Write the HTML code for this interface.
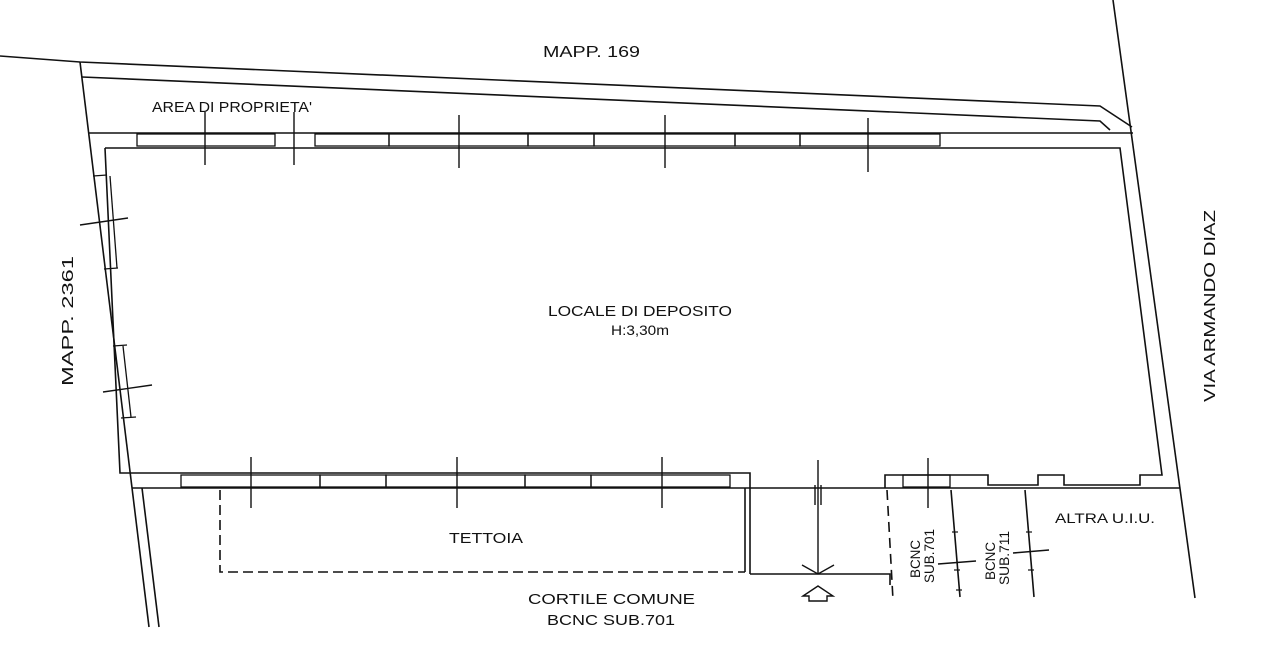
<!DOCTYPE html>
<html><head><meta charset="utf-8"><style>
html,body{margin:0;padding:0;background:#fff;}
svg{display:block;}
text{font-family:"Liberation Sans",sans-serif;fill:#111;}
</style></head><body>
<svg width="1280" height="653" viewBox="0 0 1280 653" xmlns="http://www.w3.org/2000/svg">
<g fill="none" stroke="#111" stroke-width="1.6">
<polyline points="0,56 80,62 1100,106 1132,127"/>
<polyline points="82,77 1100,121 1110,130"/>
<line x1="80" y1="62" x2="149" y2="627"/>
<line x1="1113" y1="0" x2="1195" y2="598"/>
<polyline points="89,133 1133,133"/>
<line x1="142" y1="488" x2="159" y2="627"/>
<line x1="132" y1="488" x2="1180" y2="488"/>
<polyline points="105,148 1120,148 1162,475 1140,475 1140,485 1064,485 1064,475 1038,475 1038,485 988,485 988,475 885,475 885,488"/>
<polyline points="105,148 120,473 750,473 750,488"/>
<g stroke-width="1.3">
<rect x="137" y="134" width="138" height="12"/>
<rect x="315" y="134" width="74" height="12"/>
<rect x="389" y="134" width="139" height="12"/>
<rect x="528" y="134" width="66" height="12"/>
<rect x="594" y="134" width="141" height="12"/>
<rect x="735" y="134" width="65" height="12"/>
<rect x="800" y="134" width="140" height="12"/>
<rect x="181" y="475" width="139" height="12"/>
<rect x="320" y="475" width="66" height="12"/>
<rect x="386" y="475" width="139" height="12"/>
<rect x="525" y="475" width="66" height="12"/>
<rect x="591" y="475" width="139" height="12"/>
<rect x="903" y="475" width="47" height="12"/>
<line x1="93" y1="176" x2="107" y2="175"/>
<line x1="104" y1="269" x2="118" y2="268"/>
<line x1="113" y1="346" x2="127" y2="345"/>
<line x1="121" y1="418" x2="136" y2="417"/>
<line x1="110" y1="176" x2="117" y2="268"/>
<line x1="123" y1="346" x2="131" y2="417"/>
</g>
<g stroke-width="1.4">
<line x1="205" y1="112" x2="205" y2="165"/>
<line x1="294" y1="112" x2="294" y2="165"/>
<line x1="459" y1="115" x2="459" y2="168"/>
<line x1="665" y1="115" x2="665" y2="168"/>
<line x1="868" y1="118" x2="868" y2="172"/>
<line x1="251" y1="457" x2="251" y2="508"/>
<line x1="457" y1="457" x2="457" y2="508"/>
<line x1="662" y1="457" x2="662" y2="508"/>
<line x1="928" y1="458" x2="928" y2="508"/>
<line x1="80" y1="225" x2="128" y2="218"/>
<line x1="103" y1="392" x2="152" y2="385"/>
<line x1="818" y1="460" x2="818" y2="574"/>
<line x1="815" y1="485" x2="815" y2="505"/>
<line x1="821" y1="485" x2="821" y2="505"/>
<polyline points="802,565 818,574 834,565"/>
</g>
<path d="M803,596 L818,586 L833,596 L827,596 L827,601 L809,601 L809,596 Z" stroke-width="1.4"/>
<polyline points="220,490 220,572 745,572" stroke-dasharray="10,5"/>
<line x1="745" y1="488" x2="745" y2="572"/>
<line x1="750" y1="488" x2="750" y2="574"/>
<polyline points="750,574 890,574 890,585"/>
<line x1="887" y1="490" x2="893" y2="600" stroke-dasharray="10,6"/>
<line x1="951" y1="490" x2="960" y2="597"/>
<line x1="1025" y1="490" x2="1034" y2="597"/>
<line x1="938" y1="564" x2="976" y2="561"/>
<line x1="1013" y1="553" x2="1049" y2="550"/>
<g stroke-width="1.2">
<line x1="952" y1="532" x2="958" y2="532"/>
<line x1="954" y1="570" x2="960" y2="570"/>
<line x1="956" y1="590" x2="962" y2="590"/>
<line x1="1026" y1="532" x2="1032" y2="532"/>
<line x1="1028" y1="570" x2="1034" y2="570"/>
</g>
</g>
<text x="543" y="57" font-size="16" textLength="97" lengthAdjust="spacingAndGlyphs">MAPP. 169</text>
<text x="152" y="112" font-size="15" textLength="160" lengthAdjust="spacingAndGlyphs">AREA DI PROPRIETA'</text>
<text x="548" y="316" font-size="15" textLength="184" lengthAdjust="spacingAndGlyphs">LOCALE DI DEPOSITO</text>
<text x="611" y="335" font-size="14" textLength="58" lengthAdjust="spacingAndGlyphs">H:3,30m</text>
<text x="449" y="543" font-size="15" textLength="74" lengthAdjust="spacingAndGlyphs">TETTOIA</text>
<text x="528" y="604" font-size="15" textLength="167" lengthAdjust="spacingAndGlyphs">CORTILE COMUNE</text>
<text x="547" y="625" font-size="15" textLength="128" lengthAdjust="spacingAndGlyphs">BCNC SUB.701</text>
<text x="1055" y="523" font-size="14" textLength="100" lengthAdjust="spacingAndGlyphs">ALTRA U.I.U.</text>
<text transform="translate(73,386) rotate(-90)" font-size="16" textLength="130" lengthAdjust="spacingAndGlyphs">MAPP. 2361</text>
<text transform="translate(1215,402) rotate(-90)" font-size="16" textLength="192" lengthAdjust="spacingAndGlyphs">VIA ARMANDO DIAZ</text>
<text transform="translate(920,578) rotate(-90)" font-size="14" textLength="38" lengthAdjust="spacingAndGlyphs">BCNC</text>
<text transform="translate(934,583) rotate(-90)" font-size="14" textLength="54" lengthAdjust="spacingAndGlyphs">SUB.701</text>
<text transform="translate(995,580) rotate(-90)" font-size="14" textLength="38" lengthAdjust="spacingAndGlyphs">BCNC</text>
<text transform="translate(1009,585) rotate(-90)" font-size="14" textLength="54" lengthAdjust="spacingAndGlyphs">SUB.711</text>
</svg>
</body></html>
